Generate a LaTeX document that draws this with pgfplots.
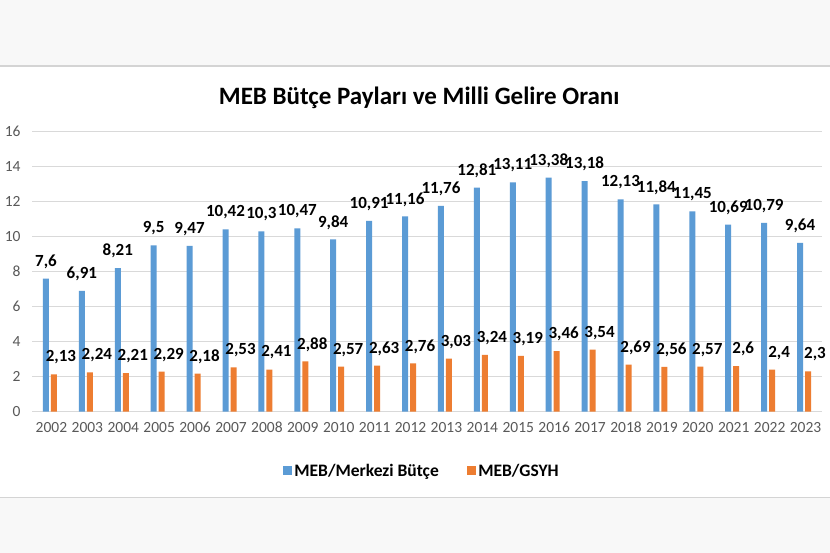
\documentclass[border=0pt]{standalone}
\usepackage{fontspec}
\setmainfont{Carlito}
\usepackage{pgfplots}
\pgfplotsset{compat=1.18}
\definecolor{barblue}{HTML}{5B9BD5}
\definecolor{barorange}{HTML}{ED7D31}
\definecolor{gridgray}{HTML}{D9D9D9}
\definecolor{ticktext}{HTML}{595959}
\definecolor{bandgray}{HTML}{F8F8F8}
\definecolor{bandline}{HTML}{D4D4D4}
\begin{document}
\begin{tikzpicture}[x=1pt,y=1pt]
\useasboundingbox (0,0) rectangle (830,553);
\fill[white] (0,0) rectangle (830,553);
\fill[bandgray] (0,487) rectangle (830,553);
\draw[bandline, line width=1.2pt] (0,487) -- (830,487);
\fill[bandgray] (0,0) rectangle (830,55.7);
\draw[bandline, line width=1.2pt] (0,55.7) -- (830,55.7);
\node[anchor=base, font=\fontsize{25}{30}\selectfont\bfseries, inner sep=0pt] at (419.2,448.7) {MEB Bütçe Payları ve Milli Gelire Oranı};
\begin{axis}[
  at={(32pt,141.3pt)}, anchor=south west,
  scale only axis, width=790pt, height=280pt,
  xmin=-0.5, xmax=21.5, ymin=0, ymax=16,
  ybar=2pt, bar width=6pt,
  axis line style={draw=none},
  ytick={0,2,...,16},
  ymajorgrids, grid style={gridgray, line width=0.9pt},
  major tick length=0pt,
  xtick={0,...,21},
  xticklabels={2002,2003,2004,2005,2006,2007,2008,2009,2010,2011,2012,2013,2014,2015,2016,2017,2018,2019,2020,2021,2022,2023},
  /pgf/number format/assume math mode=true,
  tick label style={font=\fontsize{15.5}{18}\selectfont, text=ticktext},
  xticklabel style={text height=10pt, text depth=0pt, yshift=-7pt, xshift=1.5pt},
  yticklabel style={xshift=-8pt},
  nodes near coords={\pgfmathprintnumber[use comma,precision=2,assume math mode=true]{\pgfplotspointmeta}},
  every node near coord/.append style={font=\fontsize{17}{20}\selectfont\bfseries, text=black, anchor=center, yshift=17pt},
  legend style={at={(0.4934,-0.2107)}, anchor=center, draw=none, fill=none,
    font=\fontsize{17.5}{20}\selectfont\bfseries, /tikz/every even column/.append style={column sep=26pt}},
  legend columns=2,
  legend image code/.code={\fill[#1, draw=none] (0pt,-4.7pt) rectangle (9.5pt,4.7pt);},
  clip=false,
]
\addplot[fill=barblue, draw=none] coordinates {
(0,7.6) (1,6.91) (2,8.21) (3,9.5) (4,9.47) (5,10.42) (6,10.3) (7,10.47) (8,9.84) (9,10.91) (10,11.16)
(11,11.76) (12,12.81) (13,13.11) (14,13.38) (15,13.18) (16,12.13) (17,11.84) (18,11.45) (19,10.69) (20,10.79) (21,9.64)};
\addplot[fill=barorange, draw=none, every node near coord/.append style={xshift=7pt}] coordinates {
(0,2.13) (1,2.24) (2,2.21) (3,2.29) (4,2.18) (5,2.53) (6,2.41) (7,2.88) (8,2.57) (9,2.63) (10,2.76)
(11,3.03) (12,3.24) (13,3.19) (14,3.46) (15,3.54) (16,2.69) (17,2.56) (18,2.57) (19,2.6) (20,2.4) (21,2.3)};
\legend{MEB/Merkezi Bütçe, MEB/GSYH}
\end{axis}
\end{tikzpicture}
\end{document}
